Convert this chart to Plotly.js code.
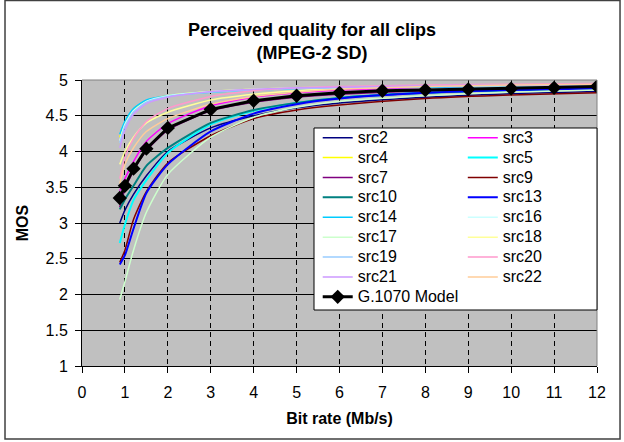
<!DOCTYPE html>
<html>
<head>
<meta charset="utf-8">
<script src="https://cdn.plot.ly/plotly-3.0.1.min.js"></script>
<style>
html,body{margin:0;padding:0;background:#fff;}
#chart{width:624px;height:442px;}
</style>
</head>
<body>
<div id="chart"></div>
<script>
// ---- data ----
const srcX = [0.88, 1, 1.2, 1.5, 2, 3, 4, 5, 6, 8, 10, 12];
const src2  = [3.00, 3.18, 3.40, 3.66, 4.00, 4.33, 4.50, 4.61, 4.68, 4.76, 4.81, 4.84];
const src3  = [3.45, 3.62, 3.86, 4.14, 4.39, 4.64, 4.76, 4.82, 4.86, 4.90, 4.92, 4.93];
const src4  = [4.20, 4.40, 4.58, 4.71, 4.78, 4.84, 4.87, 4.89, 4.90, 4.92, 4.93, 4.94];
const src5  = [2.72, 2.98, 3.32, 3.60, 3.98, 4.38, 4.57, 4.68, 4.75, 4.82, 4.86, 4.88];
const src7  = [3.22, 3.47, 3.73, 4.01, 4.30, 4.57, 4.69, 4.76, 4.80, 4.85, 4.87, 4.89];
const src9  = [2.45, 2.62, 3.05, 3.44, 3.84, 4.22, 4.46, 4.58, 4.65, 4.74, 4.79, 4.82];
const src10 = [3.19, 3.33, 3.52, 3.80, 4.05, 4.40, 4.58, 4.68, 4.75, 4.82, 4.86, 4.88];
const src13 = [2.42, 2.55, 2.92, 3.42, 3.82, 4.28, 4.53, 4.66, 4.74, 4.82, 4.86, 4.88];
const src14 = [4.24, 4.42, 4.60, 4.72, 4.78, 4.83, 4.86, 4.88, 4.89, 4.90, 4.91, 4.92];
const src16 = [4.15, 4.38, 4.57, 4.70, 4.78, 4.84, 4.87, 4.89, 4.90, 4.92, 4.93, 4.94];
const src17 = [1.93, 2.18, 2.62, 3.15, 3.68, 4.20, 4.48, 4.62, 4.70, 4.78, 4.83, 4.86];
const src18 = [3.82, 4.00, 4.20, 4.40, 4.55, 4.72, 4.80, 4.85, 4.88, 4.91, 4.92, 4.93];
const src19 = [4.12, 4.35, 4.55, 4.69, 4.77, 4.83, 4.86, 4.88, 4.89, 4.91, 4.92, 4.93];
const src20 = [3.62, 3.92, 4.18, 4.42, 4.60, 4.77, 4.85, 4.89, 4.91, 4.93, 4.94, 4.95];
const src21 = [4.05, 4.30, 4.52, 4.67, 4.76, 4.84, 4.87, 4.89, 4.90, 4.92, 4.93, 4.94];
const src22 = [3.55, 3.82, 4.05, 4.28, 4.46, 4.66, 4.77, 4.83, 4.87, 4.91, 4.93, 4.94];

const modelX = [0.88, 1, 1.2, 1.5, 2, 3, 4, 5, 6, 7, 8, 9, 10, 11, 12];
const modelY = [3.35, 3.52, 3.76, 4.04, 4.33, 4.59, 4.71, 4.78, 4.82, 4.85, 4.86, 4.87, 4.88, 4.89, 4.91];

const seriesNames = ['src2','src3','src4','src5','src7','src9','src10','src13','src14','src16','src17','src18','src19','src20','src21','src22'];
const seriesData  = [src2, src3, src4, src5, src7, src9, src10, src13, src14, src16, src17, src18, src19, src20, src21, src22];
const modelName = 'G.1070 Model';
const xTicks = [0,1,2,3,4,5,6,7,8,9,10,11,12];
const yTicks = [1,1.5,2,2.5,3,3.5,4,4.5,5];

// ---- styles ----
const colors = ['#000080','#FF00FF','#FFFF00','#00FFFF','#800080','#800000','#008080','#0000FF',
                '#00CCFF','#CCFFFF','#CCFFCC','#FFFF99','#99CCFF','#FF99CC','#CC99FF','#FFCC99'];
const widths = [1.5,1.5,1.5,2,1.5,1.5,2,2,1.5,1.5,1.5,1.5,1.5,1.5,1.5,1.5];
const legendOf = ['legend','legend2','legend','legend2','legend','legend2','legend','legend2',
                  'legend','legend2','legend','legend2','legend','legend2','legend','legend2'];

const FONT = 'Liberation Sans, Arial, sans-serif';
const traces = seriesNames.map((n, i) => ({
  type: 'scatter', mode: 'lines', x: srcX, y: seriesData[i],
  name: '<span style="font-size:16px">' + n + '</span>',
  legend: legendOf[i],
  line: {color: colors[i], width: widths[i], shape: 'spline', smoothing: 0.6},
  hoverinfo: 'skip'
}));
traces.push({
  type: 'scatter', mode: 'lines+markers', x: modelX, y: modelY,
  name: '<span style="font-size:16px">' + modelName + '</span>',
  legend: 'legend',
  line: {color: '#000000', width: 3},
  marker: {symbol: 'diamond', size: 11, color: '#000000'},
  hoverinfo: 'skip'
});

const layout = {
  width: 624, height: 442,
  margin: {l: 82, r: 27, t: 80, b: 76},
  paper_bgcolor: '#ffffff',
  plot_bgcolor: '#C0C0C0',
  font: {family: FONT, size: 16, color: '#000000'},
  title: {
    text: '<b>Perceived quality for all clips<br>(MPEG-2 SD)</b>',
    font: {family: FONT, size: 18, color: '#000000'},
    x: 0.5, xref: 'container', xanchor: 'center',
    y: 1 - 36/442, yref: 'container', yanchor: 'middle'
  },
  xaxis: {
    range: [0, 12], tickvals: xTicks, ticktext: xTicks.map(String),
    showgrid: true, gridcolor: '#000000', gridwidth: 1, griddash: '5px,4px',
    zeroline: false, showline: true, linecolor: '#000000', linewidth: 1,
    ticks: 'outside', ticklen: 6, tickcolor: '#000000', ticklabelstandoff: 6,
    tickfont: {family: FONT, size: 16, color: '#000000'},
    title: {text: '<b>Bit rate (Mb/s)</b>', font: {family: FONT, size: 16, color: '#000000'}, standoff: 12},
    fixedrange: true
  },
  yaxis: {
    range: [1, 5], tickvals: yTicks, ticktext: yTicks.map(String),
    showgrid: true, gridcolor: '#000000', gridwidth: 1,
    zeroline: false, showline: true, linecolor: '#000000', linewidth: 1,
    ticks: 'outside', ticklen: 6, tickcolor: '#000000', ticklabelstandoff: 4,
    tickfont: {family: FONT, size: 16, color: '#000000'},
    title: {text: '<b>MOS</b>', font: {family: FONT, size: 16, color: '#000000'}, standoff: 12},
    fixedrange: true
  },
  legend: {
    x: 0.4577, y: 0.8507, xanchor: 'left', yanchor: 'top',
    bgcolor: 'rgba(0,0,0,0)', borderwidth: 0,
    font: {family: FONT, size: 13, color: '#000000'},
    tracegroupgap: 0
  },
  legend2: {
    x: 0.7394, y: 0.8507, xanchor: 'left', yanchor: 'top',
    bgcolor: 'rgba(0,0,0,0)', borderwidth: 0,
    font: {family: FONT, size: 13, color: '#000000'},
    tracegroupgap: 0
  },
  showlegend: true,
  shapes: [
    {type: 'line', xref: 'paper', yref: 'paper', x0: 0, x1: 1, y0: 1, y1: 1, line: {color: '#808080', width: 1}},
    {type: 'line', xref: 'paper', yref: 'paper', x0: 1, x1: 1, y0: 0, y1: 1, line: {color: '#808080', width: 1}},
    {type: 'rect', xref: 'paper', yref: 'paper', x0: 0.4505, x1: 1.0, y0: 0.1958, y1: 0.8322,
     fillcolor: '#ffffff', line: {color: '#000000', width: 1}, layer: 'above'},
    {type: 'rect', xref: 'paper', yref: 'paper', x0: -0.1495, x1: 1.0447, y0: -0.2552, y1: 1.278,
     line: {color: '#404040', width: 1.5}, fillcolor: 'rgba(0,0,0,0)'}
  ]
};

Plotly.newPlot('chart', traces, layout, {staticPlot: true, displayModeBar: false});
</script>
</body>
</html>
